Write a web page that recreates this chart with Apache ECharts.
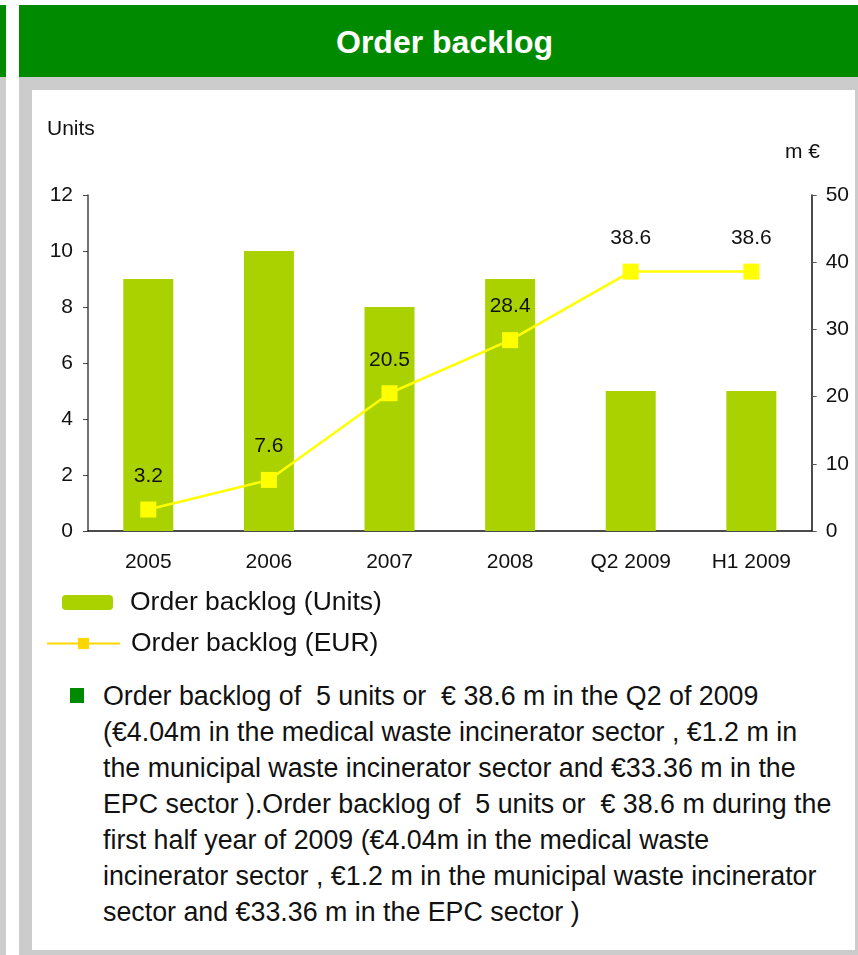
<!DOCTYPE html>
<html>
<head>
<meta charset="utf-8">
<script src="https://cdn.jsdelivr.net/npm/echarts@6/dist/echarts.min.js"></script>
<style>
  html, body { margin: 0; padding: 0; background: #fff; }
  body { width: 858px; height: 955px; position: relative; overflow: hidden; font-family: 'Liberation Sans', Arial, sans-serif; }
  .abs { position: absolute; }
  #title { left: 19px; top: 5px; width: 827px; height: 72px; padding-left: 12px; background: #008a00; color: #fff;
           font-weight: bold; font-size: 32px; line-height: 74px; text-align: center; }
  #notes { left: 103px; top: 678px; font-size: 26.8px; line-height: 36px; color: #111; white-space: pre; }
  #bullet { left: 70px; top: 688px; width: 14px; height: 15px; background: #008a00; }
</style>
</head>
<body>
<div class="abs" style="left:0;top:5px;width:6px;height:72px;background:#008a00"></div>
<div class="abs" style="left:0;top:77px;width:6px;height:878px;background:#cccccc"></div>
<div class="abs" style="left:19px;top:77px;width:839px;height:878px;background:#cccccc"></div>
<div class="abs" style="left:32px;top:90px;width:823px;height:860px;background:#ffffff"></div>
<div class="abs" id="title">Order backlog</div>
<div class="abs" id="chart" style="left:32px;top:90px;width:820px;height:580px"></div>
<div class="abs" id="bullet"></div>
<div class="abs" id="notes"></div>
<script>
window.addEventListener('DOMContentLoaded', () => {
  const categories = ['2005', '2006', '2007', '2008', 'Q2 2009', 'H1 2009'];
  const unitsValues = [9, 10, 8, 9, 5, 5];
  const eurValues = [3.2, 7.6, 20.5, 28.4, 38.6, 38.6];
  const noteLines = [
    'Order backlog of  5 units or  € 38.6 m in the Q2 of 2009',
    '(€4.04m in the medical waste incinerator sector , €1.2 m in',
    'the municipal waste incinerator sector and €33.36 m in the',
    'EPC sector ).Order backlog of  5 units or  € 38.6 m during the',
    'first half year of 2009 (€4.04m in the medical waste',
    'incinerator sector , €1.2 m in the municipal waste incinerator',
    'sector and €33.36 m in the EPC sector )'
  ];

  document.getElementById('notes').textContent = noteLines.join('\n');

  const font = "'Liberation Sans', Arial, sans-serif";
  const chart = echarts.init(document.getElementById('chart'));

  chart.setOption({
    animation: false,
    textStyle: { fontFamily: font, color: '#111' },
    grid: { left: 56, right: 38, top: 105, bottom: 139 },
    graphic: [
      { type: 'text', left: 15, top: 29, style: { text: 'Units', font: '21px ' + font, fill: '#111' } },
      { type: 'text', left: 753, top: 52, style: { text: 'm €', font: '21px ' + font, fill: '#111' } }
    ],
    legend: [
      {
        orient: 'vertical', left: 25, top: 494,
        itemWidth: 51, itemHeight: 15,
        textStyle: { fontSize: 26.5, color: '#111', padding: [0, 0, 0, 12] },
        data: ['Order backlog (Units)']
      },
      {
        orient: 'vertical', left: 9, top: 535,
        itemWidth: 73, itemHeight: 14,
        textStyle: { fontSize: 26.5, color: '#111', padding: [0, 0, 0, 6] },
        data: [{ name: 'Order backlog (EUR)', itemStyle: { color: '#ffd700' }, lineStyle: { color: '#ffd700', width: 2 } }]
      }
    ],
    xAxis: {
      type: 'category',
      data: categories,
      axisLine: { lineStyle: { color: '#111', width: 1.5 } },
      axisTick: { show: false },
      axisLabel: { fontSize: 21, color: '#111', margin: 21 }
    },
    yAxis: [
      {
        type: 'value', min: 0, max: 12, interval: 2,
        axisLine: { show: true, lineStyle: { color: '#444', width: 1.5 } },
        axisTick: { show: true, length: 5, lineStyle: { color: '#444' } },
        axisLabel: { fontSize: 21, color: '#111', margin: 15 },
        splitLine: { show: false }
      },
      {
        type: 'value', min: 0, max: 50, interval: 10,
        axisLine: { show: true, lineStyle: { color: '#111', width: 1.5 } },
        axisTick: { show: true, length: 5, lineStyle: { color: '#555' } },
        axisLabel: { fontSize: 21, color: '#111', margin: 14 },
        splitLine: { show: false }
      }
    ],
    series: [
      {
        name: 'Order backlog (Units)',
        type: 'bar',
        data: unitsValues,
        barWidth: 50,
        itemStyle: { color: '#aad200' }
      },
      {
        name: 'Order backlog (EUR)',
        type: 'line',
        yAxisIndex: 1,
        data: eurValues,
        symbol: 'rect',
        symbolSize: 16,
        itemStyle: { color: '#ffff00' },
        lineStyle: { color: '#ffff00', width: 2.5 },
        label: { show: true, position: 'top', distance: 15, fontSize: 21, color: '#111' }
      }
    ]
  });
});
</script>
</body>
</html>
